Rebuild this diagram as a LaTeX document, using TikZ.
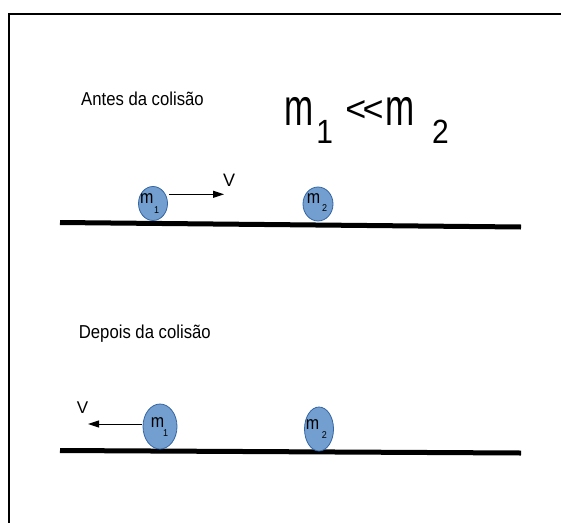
\documentclass[tikz,border=0pt]{standalone}
\usepackage{fontspec}
\setmainfont{Liberation Sans}
\usetikzlibrary{shapes.geometric,arrows.meta}
\definecolor{ballfill}{HTML}{729FCF}
\definecolor{ballline}{HTML}{3465A4}
\begin{document}
\begin{tikzpicture}[x=1pt,y=-1pt,
  ball/.style={ellipse, draw=ballline, fill=ballfill, line width=0.8pt, inner sep=0pt},
  ground/.style={line width=5pt},
  vel/.style={-{Triangle[length=11pt,width=7pt]}, line width=1pt},
  lab/.style={inner sep=0pt, anchor=base},
  ttl/.style={inner sep=0pt, anchor=base west, font=\fontsize{16.7}{20}\selectfont},
  bm/.style={lab, font=\fontsize{16}{18}\selectfont},
  bs/.style={lab, font=\fontsize{9}{10}\selectfont},
  bigm/.style={lab, font=\fontsize{35}{40}\selectfont},
  bigs/.style={lab, font=\fontsize{30}{34}\selectfont}]
\useasboundingbox (0,0) rectangle (561,522);
% frame
\draw[line width=2pt] (9.3,523) -- (9.3,14.3) -- (562,14.3);
% titles
\node[ttl] (antes) at (81,105) {\scalebox{1}[1.12]{Antes da colisão}};
\node[ttl] (depois) at (78.7,338) {\scalebox{1}[1.12]{Depois da colisão}};
% heading m1 << m2
\node[bigm] (hm1) at (299.5,125) {\scalebox{1}[1.49]{m}};
\node[bigs] (hs1) at (324.6,143) {\scalebox{1}[1.12]{1}};
\node[lab, font=\fontsize{36}{40}\selectfont] (hlt) at (364.5,121.9) {<\kern-4pt<};
\node[bigm] (hm2) at (400.5,125) {\scalebox{1}[1.49]{m}};
\node[bigs] (hs2) at (440.5,143) {\scalebox{1}[1.12]{2}};
% ground lines
\coordinate (g1a) at (60,222.5);
\coordinate (g1b) at (521,227);
\coordinate (g2a) at (60,450.5);
\coordinate (g2b) at (521,453);
\draw[ground] (g1a) -- (g1b);
\draw[ground] (g2a) -- (g2b);
% balls before
\node[ball, minimum width=29pt, minimum height=34pt] (b1) at (153,203.5) {};
\node[ball, minimum width=30pt, minimum height=34pt] (b2) at (318,204) {};
\node[bm] (b1m) at (146.7,203) {\scalebox{1}[1.15]{m}};
\node[bs] (b1s) at (156.5,213) {\scalebox{1}[1.1]{1}};
\node[bm] (b2m) at (313.5,203.3) {\scalebox{1}[1.15]{m}};
\node[bs] (b2s) at (324.5,211.7) {\scalebox{1}[1.1]{2}};
% balls after
\node[ball, minimum width=34pt, minimum height=45pt] (b3) at (160,426.5) {};
\node[ball, minimum width=29pt, minimum height=44pt] (b4) at (319,429) {};
\node[bm] (b3m) at (157.5,427.3) {\scalebox{1}[1.15]{m}};
\node[bs] (b3s) at (165.5,436) {\scalebox{1}[1.1]{1}};
\node[bm] (b4m) at (312.5,429) {\scalebox{1}[1.15]{m}};
\node[bs] (b4s) at (324.3,438) {\scalebox{1}[1.1]{2}};
% velocity arrows
\coordinate (a1s) at (169,194.3);
\coordinate (a1e) at (224,194.3);
\coordinate (a2s) at (142,424);
\coordinate (a2e) at (88,424);
\draw[vel] (a1s) -- (a1e);
\draw[vel] (a2s) -- (a2e);
\node[lab, font=\fontsize{18}{20}\selectfont] (v1) at (229,186) {V};
\node[lab, font=\fontsize{17}{20}\selectfont] (v2) at (82.5,413) {V};
\end{tikzpicture}
\end{document}
